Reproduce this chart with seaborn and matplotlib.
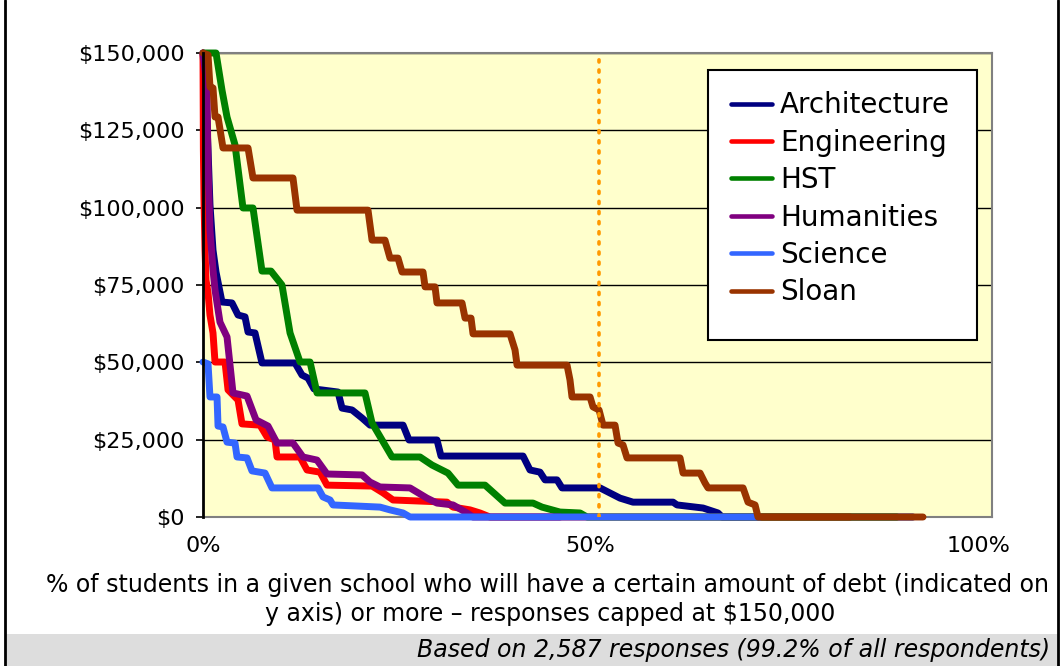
import numpy as np
import pandas as pd
import matplotlib
matplotlib.use("Agg")
from matplotlib import pyplot as plt
from matplotlib.lines import Line2D
from matplotlib.patches import Rectangle
import seaborn as sns

# values: x = % of students, y = debt in $
arch_x = [0, 0.39, 0.65, 0.9, 1.29, 1.68, 2.45, 3.74, 4.52, 5.42, 5.81, 6.71, 7.61, 11.87, 12.77, 13.55,
          14.32, 17.42, 17.94, 19.23, 20.52, 21.55, 25.81, 26.58, 30.19, 30.71, 41.29, 42.19, 43.48, 44.13,
          45.68, 46.32, 51.23, 53.81, 55.48, 60.65, 61.16, 64.52, 66.45, 66.97, 91.61]
arch_y = [150000, 134800, 118600, 100900, 86300, 79200, 69500, 69200, 65300, 64700, 59800, 59500, 49800,
          49800, 45900, 44900, 41400, 40400, 35200, 34600, 32000, 29700, 29700, 24900, 24900, 19700, 19700,
          15200, 14500, 12000, 12000, 9400, 9400, 6100, 4800, 4800, 3900, 2900, 1300, 0, 0]

eng_x = [0, 0.05, 0.13, 0.26, 0.39, 0.65, 0.9, 1.29, 1.55, 2.84, 3.23, 4.52, 5.03, 7.35, 8.26, 9.29, 9.55,
         12.52, 13.42, 15.1, 16.0, 21.81, 23.23, 24.52, 31.48, 32.26, 34.45, 35.74, 37.03, 83.48]
eng_y = [150000, 118600, 102500, 86300, 76600, 72400, 65300, 59500, 50100, 50100, 41100, 37800, 30100,
         29700, 25900, 24900, 19400, 19400, 15200, 14500, 10300, 10000, 7800, 5500, 4800, 3200, 2300, 1300, 0, 0]

hst_x = [0, 1.68, 2.45, 3.1, 4.13, 5.16, 6.45, 7.61, 8.77, 10.19, 11.23, 12.52, 13.81, 14.71, 20.9, 21.81,
         24.39, 28.0, 29.55, 31.61, 32.9, 36.39, 38.97, 42.58, 43.74, 46.06, 48.65, 49.55, 89.55]
hst_y = [150000, 150000, 138000, 129300, 120300, 99900, 99900, 79500, 79500, 75000, 59500, 50100, 50100,
         40100, 40100, 30400, 19400, 19400, 16800, 14200, 10300, 10300, 4500, 4500, 3200, 1600, 1300, 0, 0]

hum_x = [0, 0.26, 0.52, 0.65, 0.9, 1.29, 1.55, 2.19, 3.1, 3.87, 5.68, 6.84, 8.39, 9.55, 11.61, 12.9, 14.71,
         16.0, 20.52, 21.55, 22.84, 26.71, 28.9, 30.19, 32.26, 34.06, 34.84, 46.06]
hum_y = [150000, 144500, 138000, 113200, 92800, 79900, 73400, 63000, 58200, 40100, 39100, 31400, 29400,
         23900, 23900, 19400, 18400, 13900, 13600, 11300, 9700, 9400, 6100, 4500, 3900, 1300, 0, 0]

sci_x = [0, 0.65, 0.9, 1.81, 1.94, 2.58, 3.1, 4.13, 4.39, 5.68, 6.32, 8.0, 8.9, 14.84, 15.48, 16.39, 16.77,
         22.84, 24.13, 25.81, 26.71, 71.87]
sci_y = [50100, 49500, 38800, 38800, 29400, 29100, 24200, 23900, 19400, 19100, 14900, 14200, 9400, 9400,
         6500, 5500, 3900, 3200, 2300, 1300, 0, 0]

sloan_x = [0, 0.65, 0.9, 1.29, 1.55, 1.94, 2.58, 5.81, 6.45, 11.61, 12.13, 21.29, 21.81, 23.48, 24.13,
           25.16, 25.68, 28.39, 28.65, 29.94, 30.19, 33.42, 33.81, 34.58, 34.84, 39.61, 40.26, 40.52, 46.97,
           47.35, 47.61, 49.94, 50.32, 51.1, 51.61, 53.16, 53.55, 54.19, 54.71, 61.55, 61.94, 64.13, 64.77,
           65.16, 69.68, 70.32, 71.23, 71.61, 92.9]
sloan_y = [150000, 149400, 139000, 138700, 129300, 129300, 119300, 119300, 109600, 109600, 99200, 99200,
           89500, 89500, 83700, 83700, 79200, 79200, 74400, 74400, 69200, 69200, 64300, 64300, 59200, 59200,
           54000, 49100, 49100, 44300, 38800, 38800, 35600, 34600, 29700, 29700, 23900, 23300, 19100, 19100,
           14200, 14200, 11000, 9400, 9400, 4800, 3900, 0, 0]

schools = ["Architecture", "Engineering", "HST", "Humanities", "Science", "Sloan"]
colors = ["#000080", "#FF0000", "#008000", "#800080", "#3366FF", "#993300"]
median_x = 51.1

series = [(arch_x, arch_y), (eng_x, eng_y), (hst_x, hst_y), (hum_x, hum_y), (sci_x, sci_y), (sloan_x, sloan_y)]
frames = []
for name, (xs, ys) in zip(schools, series):
    frames.append(pd.DataFrame({"pct": xs, "debt": ys, "school": name}))
df = pd.concat(frames, ignore_index=True)

sns.set_theme(style="white", rc={"text.color": "black", "xtick.color": "black", "ytick.color": "black"})
plt.rcParams["font.family"] = ["DejaVu Sans"]

W, H = 1062, 666
fig = plt.figure(figsize=(W / 100, H / 100), dpi=100)
left, right, top, bottom = 203, 992, 53, 517
ax = fig.add_axes([left / W, 1 - bottom / H, (right - left) / W, (bottom - top) / H])
ax.set_facecolor("#FFFFCC")

sns.lineplot(data=df, x="pct", y="debt", hue="school", palette=dict(zip(schools, colors)),
             sort=False, estimator=None, units="school", linewidth=5, ax=ax, legend=False)
for ln in ax.lines:
    ln.set_clip_on(False)
    ln.set_solid_joinstyle("round")
    ln.set_zorder(3)

ax.axvline(median_x, color="#FF9900", linestyle=(0, (0.6, 2.2)), linewidth=2.6,
           dash_capstyle="round", zorder=4)

ax.set_xlim(0, 101.8)
ax.set_ylim(0, 150000)
ax.set_xticks([0, 50, 100])
ax.set_xticklabels(["0%", "50%", "100%"])
ax.set_yticks(np.arange(0, 150001, 25000))
ax.set_yticklabels(["${:,.0f}".format(v) for v in np.arange(0, 150001, 25000)])
ax.tick_params(axis="y", length=5, width=1.2, color="black", pad=8.5, labelsize=16, left=True)
ax.tick_params(axis="x", length=0, pad=14, labelsize=16)
ax.set_xlabel("")
ax.set_ylabel("")

ax.yaxis.grid(True, color="black", linewidth=1)
ax.xaxis.grid(False)
ax.set_axisbelow(True)
for s in ["top", "right", "bottom"]:
    ax.spines[s].set_color("#808080")
    ax.spines[s].set_linewidth(1.5)
ax.spines["left"].set_color("black")
ax.spines["left"].set_linewidth(2)
ax.spines["left"].set_zorder(5)

# legend box
lx0, lx1, ly0, ly1 = 708, 977, 70, 340
ax.add_patch(Rectangle(((lx0 - left) / (right - left), (bottom - ly1) / (bottom - top)),
                       (lx1 - lx0) / (right - left), (ly1 - ly0) / (bottom - top),
                       transform=ax.transAxes, facecolor="white", edgecolor="black",
                       linewidth=1.5, zorder=6))
handles = [Line2D([0], [0], color=c, linewidth=3.3) for c in colors]
leg = ax.legend(handles, schools, loc="upper left",
                bbox_to_anchor=((lx0 - left + 1) / (right - left), (bottom - ly0 + 1) / (bottom - top)),
                frameon=False, fontsize=20, handlelength=1.45, handletextpad=0.3,
                labelspacing=0.34, borderpad=0.3)
leg.set_zorder(7)

fig.text(548 / W, 1 - 585 / H,
         "% of students in a given school who will have a certain amount of debt (indicated on",
         ha="center", va="center", fontsize=17)
fig.text(550 / W, 1 - 614 / H, "y axis) or more \u2013 responses capped at $150,000",
         ha="center", va="center", fontsize=17)

fig.patches.append(Rectangle((5 / W, 0), (1058 - 5) / W, (H - 634) / H, transform=fig.transFigure,
                             facecolor="#DDDDDD", edgecolor="none", zorder=0))
fig.text(1050 / W, 1 - 650 / H, "Based on 2,587 responses (99.2% of all respondents)",
         ha="right", va="center", fontsize=17, style="italic")
fig.lines.append(Line2D([5 / W, 5 / W], [0, 1], transform=fig.transFigure, color="black", linewidth=2))
fig.lines.append(Line2D([1058 / W, 1058 / W], [0, 1], transform=fig.transFigure, color="black", linewidth=2))

fig.savefig("out.png", dpi=100)
